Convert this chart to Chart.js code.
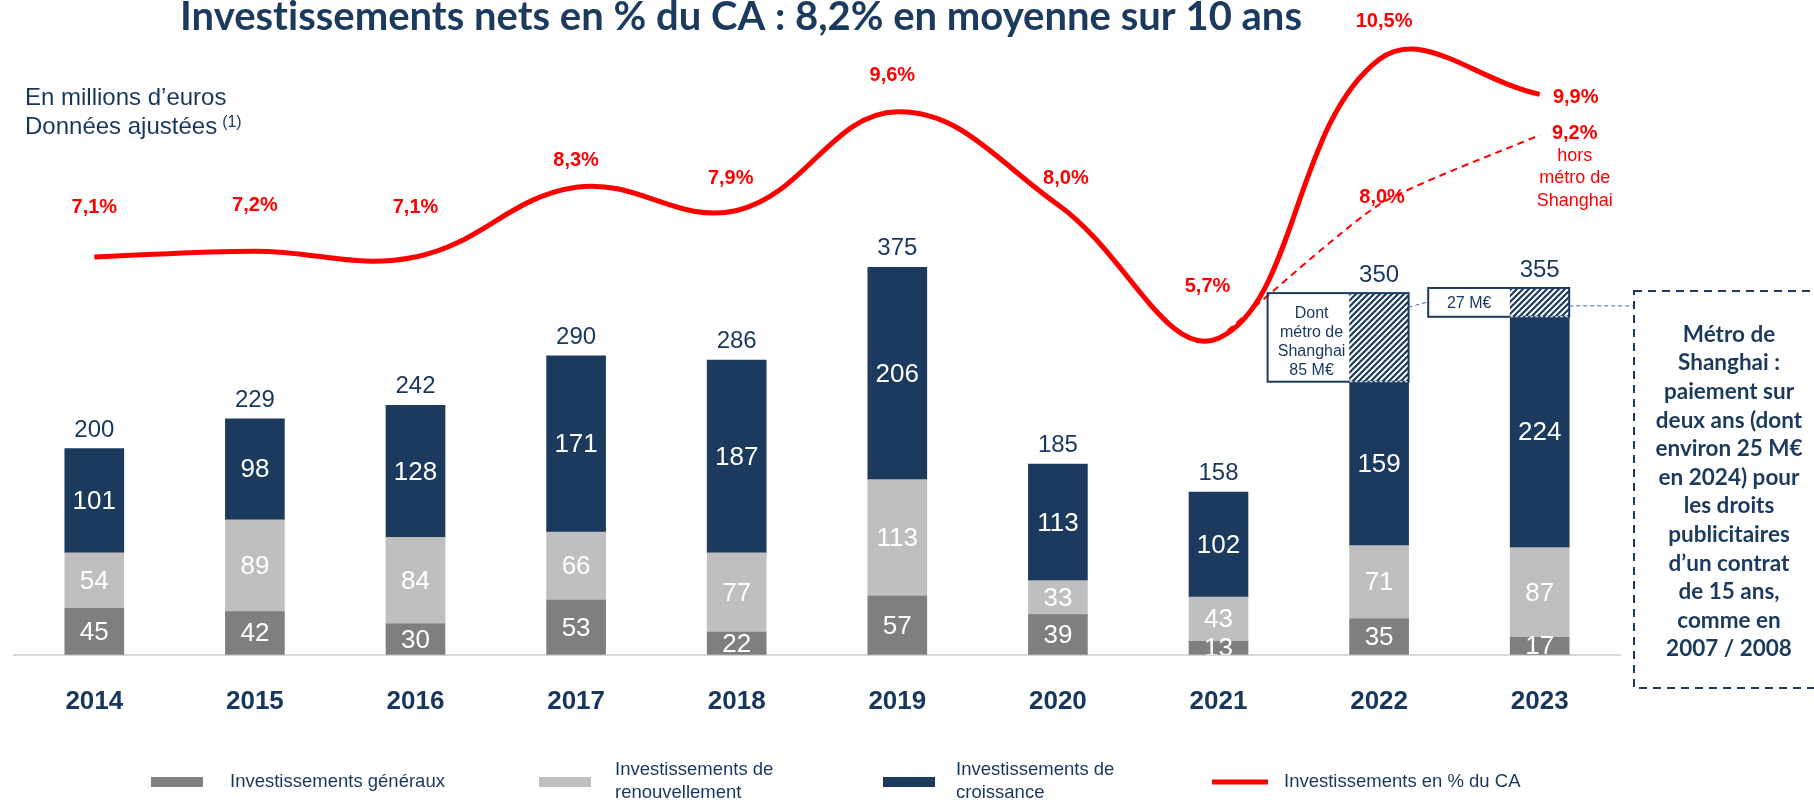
<!DOCTYPE html>
<html lang="fr">
<head>
<meta charset="utf-8">
<title>Investissements nets en % du CA</title>
<script src="https://cdn.jsdelivr.net/npm/chart.js@4.4.1/dist/chart.umd.min.js"></script>
<style>
  html, body { margin: 0; padding: 0; background: #fff; }
  #wrap { position: relative; width: 1814px; height: 800px; }
</style>
</head>
<body>
<div id="wrap"><canvas id="invChart"></canvas></div>
<script>
// Investissements nets, en M€ (données ajustées)
const years = ['2014', '2015', '2016', '2017', '2018', '2019', '2020', '2021', '2022', '2023'];
const invGeneraux = [45, 42, 30, 53, 22, 57, 39, 13, 35, 17];
const invRenouvellement = [54, 89, 84, 66, 77, 113, 33, 43, 71, 87];
const invCroissance = [101, 98, 128, 171, 187, 206, 113, 102, 159, 224];
const metroShanghai = [null, null, null, null, null, null, null, null, 85, 27];
const totals = [200, 229, 242, 290, 286, 375, 185, 158, 350, 355];

// Investissements en % du CA
const pctCA = [7.1, 7.2, 7.1, 8.3, 7.9, 9.6, 8.0, 5.7, 10.5, 9.9];
const pctHorsMetro = [null, null, null, null, null, null, null, 5.7, 8.0, 9.2];

// where each % label sits relative to its point (px)
const pctLabelShift = [[0, -49], [0, -46], [0, -49], [0, -27], [-6, -32], [-5, -36], [8, -26], [-11, -52], [5, -38], [36, 3]];
const horsLabelShift = { 8: [3, -7], 9: [35, -2] };

const NAVY = '#1b3a5e';
const TXT = '#17375e';
const RED = '#ff0000';
const SANS = '"Liberation Sans", Arial, sans-serif';
const CAL = 'Lato, "Open Sans", sans-serif';

Chart.defaults.font.family = SANS;

const canvas = document.getElementById('invChart');
const ctx = canvas.getContext('2d');

function hatchPattern() {
    const c = document.createElement('canvas');
    c.width = 6; c.height = 6;
    const g = c.getContext('2d');
    g.fillStyle = '#fff';
    g.fillRect(0, 0, 6, 6);
    g.strokeStyle = NAVY;
    g.lineWidth = 2.2;
    g.beginPath();
    g.moveTo(0, 6); g.lineTo(6, 0);
    g.moveTo(-3, 3); g.lineTo(3, -3);
    g.moveTo(3, 9); g.lineTo(9, 3);
    g.stroke();
    return ctx.createPattern(c, 'repeat');
}

function fmtPct(v) {
    return v.toFixed(1).replace('.', ',') + '%';
}

// draws pieces one after another so no ligature forms across them
function fillPieces(c, pieces, cx, y) {
    const widths = pieces.map(p => c.measureText(p).width);
    let x = cx - widths.reduce((a, b) => a + b, 0) / 2;
    c.textAlign = 'left';
    pieces.forEach((p, k) => {
        c.fillText(p, x, y);
        x += widths[k];
    });
}

const labelsPlugin = {
    id: 'labels',
    afterDatasetsDraw(chart) {
        const c = chart.ctx;
        const area = chart.chartArea;
        const yScale = chart.scales.y;

        // values inside the bar segments
        c.save();
        c.beginPath();
        c.rect(area.left, area.top, area.right - area.left, area.bottom - area.top);
        c.clip();
        c.font = '26px ' + SANS;
        c.fillStyle = '#fff';
        c.textAlign = 'center';
        c.textBaseline = 'middle';
        [0, 1, 2].forEach(di => {
            const meta = chart.getDatasetMeta(di);
            meta.data.forEach((bar, i) => {
                const v = chart.data.datasets[di].data[i];
                if (!v) return;
                c.fillText(String(v), bar.x, (bar.y + bar.base) / 2 + 1);
            });
        });
        c.restore();

        // totals above the stacks
        c.save();
        c.font = '24px ' + SANS;
        c.fillStyle = TXT;
        c.textAlign = 'center';
        c.textBaseline = 'alphabetic';
        const barMeta = chart.getDatasetMeta(0);
        totals.forEach((t, i) => {
            const top = invGeneraux[i] + invRenouvellement[i] + invCroissance[i] + (metroShanghai[i] || 0);
            c.fillText(String(t), barMeta.data[i].x, yScale.getPixelForValue(top) - 12);
        });
        c.restore();

        // % labels
        c.save();
        c.font = 'bold 20px ' + SANS;
        c.fillStyle = RED;
        c.textAlign = 'center';
        c.textBaseline = 'middle';
        const lineMeta = chart.getDatasetMeta(4);
        pctCA.forEach((p, i) => {
            const pt = lineMeta.data[i];
            const [dx, dy] = pctLabelShift[i];
            c.fillText(fmtPct(p), pt.x + dx, pt.y + dy);
        });
        const horsMeta = chart.getDatasetMeta(5);
        Object.keys(horsLabelShift).forEach(k => {
            const i = Number(k);
            const pt = horsMeta.data[i];
            const [dx, dy] = horsLabelShift[i];
            c.fillText(fmtPct(pctHorsMetro[i]), pt.x + dx, pt.y + dy);
        });
        const last = horsMeta.data[9];
        c.font = '18px ' + SANS;
        ['hors', 'métro de', 'Shanghai'].forEach((s, k) => {
            c.fillText(s, last.x + 35, last.y + 21 + k * 22.5);
        });
        c.restore();

        // Shanghai metro callouts
        const metroMeta = chart.getDatasetMeta(3);
        const b22 = metroMeta.data[8];
        const b23 = metroMeta.data[9];
        const r22 = b22.x + b22.width / 2;
        const r23 = b23.x + b23.width / 2;
        c.save();
        c.strokeStyle = NAVY;
        c.lineWidth = 2;
        c.strokeRect(r22 - 141, b22.y - 1, 141, b22.base - b22.y + 1);
        c.strokeRect(r23 - 141, b23.y - 1, 141, b23.base - b23.y + 1);
        c.fillStyle = TXT;
        c.font = '16px ' + SANS;
        c.textAlign = 'center';
        c.textBaseline = 'middle';
        ['Dont', 'métro de', 'Shanghai', '85 M€'].forEach((s, k) => {
            c.fillText(s, r22 - 97, b22.y + 19 + k * 19.3);
        });
        c.fillText('27 M€', r23 - 100, (b23.y + b23.base) / 2 + 1);

        // thin white seam between hatched part and the growth segment
        c.strokeStyle = '#ffffff';
        c.lineWidth = 1;
        c.setLineDash([3, 2]);
        c.beginPath();
        c.moveTo(r22 - b22.width, b22.base);
        c.lineTo(r22, b22.base);
        c.moveTo(r23 - b23.width, b23.base);
        c.lineTo(r23, b23.base);
        c.stroke();

        // dashed connectors
        c.strokeStyle = '#4a62c4';
        c.setLineDash([4, 3]);
        const mid23 = (b23.y + b23.base) / 2;
        c.beginPath();
        c.moveTo(r22, b22.y + 13);
        c.lineTo(r23 - 141, mid23 - 1);
        c.moveTo(r23, mid23 + 3);
        c.lineTo(1634, mid23 + 3);
        c.stroke();
        c.restore();
    },
    afterDraw(chart) {
        const c = chart.ctx;
        c.save();

        // title
        c.fillStyle = NAVY;
        c.font = 'bold 40px ' + CAL;
        c.textBaseline = 'alphabetic';
        fillPieces(c, ['Invest', 'issements nets en % du CA : 8,2% en moyenne sur 10 ans'], 741, 30);

        // unit note
        c.fillStyle = TXT;
        c.textAlign = 'left';
        c.font = '24px ' + SANS;
        c.fillText('En millions d’euros', 25, 105);
        c.fillText('Données ajustées', 25, 134);
        const w = c.measureText('Données ajustées').width;
        c.font = '16px ' + SANS;
        c.fillText('(1)', 25 + w + 5, 127);

        // right-hand note
        c.strokeStyle = NAVY;
        c.lineWidth = 2;
        c.setLineDash([8, 6]);
        c.strokeRect(1634, 291, 200, 397);
        c.setLineDash([]);
        c.font = 'bold 22.5px ' + CAL;
        c.textAlign = 'center';
        c.fillStyle = NAVY;
        const note = ['Métro de', 'Shanghai :', 'paiement sur', 'deux ans (dont', 'environ 25 M€',
            'en 2024) pour', 'les droits', 'publicitaires', 'd’un contrat', 'de 15 ans,', 'comme en', '2007 / 2008'];
        note.forEach((s, k) => c.fillText(s, 1729, 341.7 + k * 28.6));

        // legend
        const ly = 782;
        c.font = '18.5px ' + SANS;
        c.textAlign = 'left';
        c.textBaseline = 'middle';
        c.fillStyle = '#7f7f7f';
        c.fillRect(151, ly - 5, 52, 10);
        c.fillStyle = '#bfbfbf';
        c.fillRect(539, ly - 5, 52, 10);
        c.fillStyle = NAVY;
        c.fillRect(883, ly - 5, 52, 10);
        c.strokeStyle = RED;
        c.lineWidth = 5;
        c.beginPath();
        c.moveTo(1212, ly);
        c.lineTo(1268, ly);
        c.stroke();
        c.fillStyle = TXT;
        c.fillText('Investissements généraux', 230, ly);
        c.fillText('Investissements de', 615, ly - 12);
        c.fillText('renouvellement', 615, ly + 11);
        c.fillText('Investissements de', 956, ly - 12);
        c.fillText('croissance', 956, ly + 11);
        c.fillText('Investissements en % du CA', 1284, ly);
        c.restore();
    }
};

new Chart(ctx, {
    type: 'bar',
    data: {
        labels: years,
        datasets: [
            { label: 'Investissements généraux', data: invGeneraux, backgroundColor: '#7f7f7f', barThickness: 59, order: 2 },
            { label: 'Investissements de renouvellement', data: invRenouvellement, backgroundColor: '#bfbfbf', barThickness: 59, order: 2 },
            { label: 'Investissements de croissance', data: invCroissance, backgroundColor: NAVY, barThickness: 59, order: 2 },
            { label: 'Dont métro de Shanghai', data: metroShanghai, backgroundColor: hatchPattern(), barThickness: 59, order: 2 },
            {
                type: 'line', label: 'Investissements en % du CA', data: pctCA, yAxisID: 'y1',
                borderColor: RED, borderWidth: 5, pointRadius: 0, tension: 0.4, order: 1
            },
            {
                type: 'line', label: 'Hors métro de Shanghai', data: pctHorsMetro, yAxisID: 'y1',
                borderColor: RED, borderWidth: 2, borderDash: [7, 5], pointRadius: 0, tension: 0.2, order: 1
            }
        ]
    },
    options: {
        responsive: true,
        maintainAspectRatio: false,
        animation: false,
        layout: { padding: { left: 14, right: 194, top: 20, bottom: 52 } },
        plugins: {
            legend: { display: false },
            tooltip: { enabled: false }
        },
        scales: {
            x: {
                stacked: true,
                grid: { display: false, drawTicks: false },
                border: { display: true, color: '#d9d9d9', width: 2 },
                ticks: { color: TXT, padding: 31, font: { family: SANS, size: 26, weight: 'bold' } }
            },
            y: { stacked: true, display: false, min: 0, max: 616 },
            y1: { display: false, min: 0.25, max: 11.18 }
        }
    },
    plugins: [labelsPlugin]
});
</script>
</body>
</html>
